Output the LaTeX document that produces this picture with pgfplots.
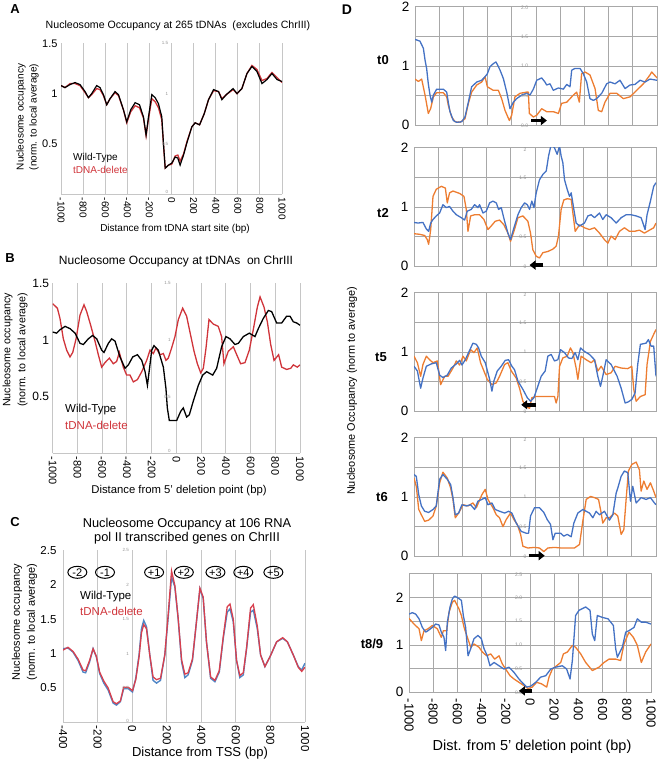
\documentclass[border=0pt]{standalone}
\usepackage{fontspec}
\setmainfont{Liberation Sans}
\usepackage{pgfplots}
\pgfplotsset{compat=1.18}
\usetikzlibrary{arrows.meta,shapes.geometric}
\definecolor{gridc}{HTML}{C6C6C6}
\definecolor{gridd}{HTML}{A8A8A8}
\definecolor{wtred}{HTML}{D0343A}
\definecolor{cred}{HTML}{D8404E}
\definecolor{cblue}{HTML}{4F86C6}
\definecolor{dblue}{HTML}{4472C4}
\definecolor{dorange}{HTML}{ED7D31}
\newcommand{\fs}[1]{\fontsize{#1}{#1}\selectfont}
\tikzset{
  tinyl/.style={font=\fs{4.5}, text=gray!85, anchor=east, inner sep=0.5pt},
  dline/.style={line width=1.3pt, line join=round},
  nuc/.style={draw, ellipse, line width=1pt, minimum width=19pt, minimum height=12pt, inner sep=0pt, font=\fs{11}},
}
\pgfplotsset{
  abc/.style={scale only axis, enlargelimits=false, clip mode=individual, anchor=south west,
    axis x line=bottom, axis y line=left,
    axis line style={draw=gridc, line width=0.9pt, -},
    xmajorgrids, grid style={draw=gridc, line width=0.9pt},
    major tick length=0pt,
    /pgf/number format/assume math mode=true,
    /pgf/number format/1000 sep={},
    xticklabel style={rotate=-90, anchor=west},
    yticklabel style={anchor=east},
  },
  dpan/.style={scale only axis, enlargelimits=false, clip mode=individual, anchor=south west,
    width=242pt, height=118.5pt, xmin=-1000, xmax=1000, ymin=0,
    axis line style={draw=gridd, line width=0.8pt},
    grid=major, grid style={draw=gridd, line width=0.8pt},
    major tick length=0pt,
    xtick={-1000,-800,-600,-400,-200,0,200,400,600,800,1000},
    /pgf/number format/assume math mode=true,
    /pgf/number format/1000 sep={},
    yticklabel style={font=\fs{13.5}, anchor=east, xshift=-2pt},
  },
}
\begin{document}
\begin{tikzpicture}[x=1pt,y=1pt]
\useasboundingbox (0pt,0pt) rectangle (660pt,763pt);
% ---------------- Panel A
\begin{axis}[abc, at={(61pt,568.7pt)}, width=221pt, height=151pt,
  xmin=-1000, xmax=1000, ymin=0, ymax=1.5,
  xtick={-1000,-800,-600,-400,-200,0,200,400,600,800,1000},
  ytick={0.5,1,1.5},
  xticklabel style={font=\fs{10}}, yticklabel style={font=\fs{11}}]
\addplot[wtred, line width=1.3pt] coordinates {(-1000,1.08) (-964,1.06) (-918,1.10) (-873,1.10) (-828,1.08) (-782,1.01) (-752,0.96) (-722,0.99) (-677,1.05) (-647,1.04) (-616,0.98) (-586,0.89) (-556,0.95) (-511,1.01) (-480,0.98) (-435,0.84) (-405,0.71) (-369,0.82) (-329,0.88) (-290,0.86) (-254,0.76) (-230,0.58) (-208,0.75) (-178,0.95) (-148,0.92) (-118,0.86) (-88,0.74) (-73,0.50) (-57,0.26) (-27,0.29) (3,0.30) (33,0.38) (57,0.39) (78,0.33) (109,0.40) (139,0.52) (184,0.67) (214,0.71) (254,0.69) (296,0.80) (335,0.94) (381,1.03) (426,1.02) (456,0.95) (496,0.99) (557,1.04) (593,1.00) (637,1.05) (683,1.20) (728,1.28) (773,1.24) (819,1.13) (864,1.15) (909,1.21) (955,1.16) (1000,1.11)};
\addplot[black, line width=1.2pt] coordinates {(-1000,1.08) (-964,1.06) (-918,1.09) (-873,1.11) (-828,1.09) (-782,1.02) (-752,0.96) (-722,1.00) (-677,1.08) (-647,1.06) (-616,0.99) (-586,0.89) (-556,0.95) (-511,1.02) (-480,0.99) (-435,0.84) (-405,0.72) (-369,0.84) (-329,0.91) (-290,0.89) (-254,0.77) (-230,0.59) (-208,0.77) (-178,0.99) (-148,0.96) (-118,0.90) (-88,0.77) (-73,0.51) (-57,0.26) (-27,0.29) (3,0.31) (33,0.37) (57,0.36) (78,0.29) (109,0.39) (139,0.51) (184,0.67) (214,0.71) (254,0.69) (296,0.80) (335,0.94) (381,1.04) (426,1.02) (456,0.94) (496,0.99) (557,1.05) (593,1.00) (637,1.05) (683,1.20) (728,1.27) (773,1.22) (819,1.10) (864,1.14) (909,1.20) (955,1.14) (1000,1.12)};
\node[tinyl] at (axis cs:-25,1.5) {1.5};
\node[tinyl] at (axis cs:-25,1) {1};
\node[tinyl] at (axis cs:-25,0.5) {0.5};
\node[tinyl] at (axis cs:-25,0.02) {0};
\end{axis}
\node[font=\bfseries\fs{13}] at (15pt,754pt) {A};
\node[font=\fs{10.6}] at (178pt,737pt) {Nucleosome Occupancy at 265 tDNAs\ \ (excludes ChrIII)};
\node[font=\fs{10}, rotate=90] at (21pt,646pt) {Nucleosome occupancy};
\node[font=\fs{10}, rotate=90] at (34pt,646pt) {(norm. to local average)};
\node[font=\fs{10}] at (175pt,534pt) {Distance from tDNA start site (bp)};
\node[font=\fs{10}, anchor=west, inner sep=0pt] at (73pt,605pt) {Wild-Type};
\node[font=\fs{10}, anchor=west, inner sep=0pt, text=wtred] at (73pt,593pt) {tDNA-delete};
% ---------------- Panel B
\begin{axis}[abc, at={(52.7pt,309.7pt)}, width=247.3pt, height=170pt,
  xmin=-1000, xmax=1000, ymin=0, ymax=1.5,
  xtick={-1000,-800,-600,-400,-200,0,200,400,600,800,1000},
  ytick={0.5,1,1.5},
  xticklabel style={font=\fs{11}}, yticklabel style={font=\fs{12}}]
\addplot[wtred, line width=1.3pt] coordinates {(-1000,1.32) (-981,1.30) (-962,1.28) (-941,1.19) (-914,1.01) (-887,0.91) (-860,0.85) (-838,0.89) (-811,1.01) (-779,1.22) (-747,1.31) (-725,1.25) (-693,1.13) (-658,0.99) (-631,0.87) (-604,0.76) (-577,0.80) (-542,0.84) (-510,0.79) (-483,0.81) (-461,0.89) (-429,0.76) (-402,0.69) (-375,0.69) (-348,0.63) (-315,0.65) (-280,0.72) (-240,0.82) (-213,0.91) (-186,0.88) (-165,0.93) (-132,0.87) (-105,0.88) (-84,0.82) (-65,0.84) (-38,0.93) (-11,1.03) (16,1.18) (51,1.28) (83,1.21) (110,1.07) (143,0.90) (170,0.79) (197,0.71) (218,0.75) (240,0.93) (264,1.18) (299,1.14) (339,1.12) (366,1.03) (385,0.79) (420,0.90) (461,0.94) (488,0.87) (520,0.79) (555,0.80) (590,0.91) (622,1.09) (655,1.29) (677,1.38) (709,1.29) (736,1.16) (763,0.96) (790,0.82) (827,0.87) (852,0.76) (892,0.74) (925,0.75) (946,0.78) (978,0.76) (1000,0.78)};
\addplot[black, line width=1.3pt] coordinates {(-1000,1.07) (-968,1.06) (-941,1.09) (-900,1.12) (-860,1.10) (-819,1.06) (-779,0.97) (-752,0.96) (-712,1.01) (-677,1.04) (-644,1.01) (-604,0.91) (-585,0.89) (-550,0.97) (-523,1.01) (-496,0.99) (-456,0.85) (-415,0.75) (-388,0.78) (-353,0.85) (-315,0.87) (-280,0.82) (-253,0.72) (-234,0.60) (-218,0.74) (-199,0.91) (-181,0.95) (-146,0.91) (-105,0.76) (-84,0.57) (-73,0.40) (-57,0.29) (-24,0.29) (3,0.29) (35,0.37) (56,0.40) (83,0.32) (105,0.34) (137,0.46) (178,0.60) (213,0.69) (245,0.72) (294,0.69) (326,0.75) (366,0.94) (401,1.03) (434,1.01) (474,0.96) (501,0.97) (542,1.03) (590,1.06) (636,1.03) (663,1.10) (703,1.19) (744,1.26) (771,1.25) (811,1.15) (852,1.15) (892,1.21) (919,1.21) (946,1.16) (973,1.15) (1000,1.13)};
\node[tinyl] at (axis cs:-40,1.5) {1.5};
\node[tinyl] at (axis cs:-40,1) {1};
\node[tinyl] at (axis cs:-40,0.5) {0.5};
\node[tinyl] at (axis cs:-40,0.02) {0};
\end{axis}
\node[font=\bfseries\fs{13}] at (10pt,505pt) {B};
\node[font=\fs{12}] at (176pt,502pt) {Nucleosome Occupancy at tDNAs\ \ on ChrIII};
\node[font=\fs{10.7}, rotate=90] at (7.5pt,413pt) {Nucleosome occupancy};
\node[font=\fs{10.7}, rotate=90] at (22.5pt,413pt) {(norm. to local average)};
\node[font=\fs{11.3}] at (179pt,272pt) {Distance from 5' deletion point (bp)};
\node[font=\fs{11.5}, anchor=west, inner sep=0pt] at (65pt,353pt) {Wild-Type};
\node[font=\fs{11.5}, anchor=west, inner sep=0pt, text=wtred] at (65pt,338pt) {tDNA-delete};
% ---------------- Panel C
\begin{axis}[abc, at={(63pt,40.7pt)}, width=242pt, height=172pt,
  xmin=-400, xmax=1000, ymin=0, ymax=2.5,
  xtick={-400,-200,0,200,400,600,800,1000},
  ytick={0.5,1,1.5,2,2.5},
  xticklabel style={font=\fs{11.5}}, yticklabel style={font=\fs{11.5}, xshift=-3pt}]
\addplot[cblue, line width=1.4pt] coordinates {(-400,1.07) (-371,1.08) (-342,1.02) (-313,0.90) (-284,0.73) (-269,0.72) (-246,0.88) (-226,1.07) (-207,0.95) (-188,0.71) (-164,0.57) (-139,0.47) (-110,0.28) (-91,0.25) (-68,0.30) (-49,0.49) (-23,0.49) (2,0.44) (21,0.64) (40,0.98) (54,1.36) (67,1.48) (83,1.39) (102,0.98) (121,0.61) (141,0.57) (164,0.61) (189,0.98) (208,1.51) (228,2.11) (247,1.97) (266,1.51) (286,0.88) (305,0.65) (324,0.69) (349,0.90) (372,1.46) (392,1.94) (411,1.80) (430,1.17) (454,0.64) (479,0.59) (504,0.73) (527,1.22) (550,1.60) (566,1.65) (585,1.46) (604,0.90) (623,0.65) (643,0.69) (662,1.07) (685,1.60) (701,1.63) (724,1.36) (743,0.98) (768,0.81) (797,0.95) (836,1.17) (871,1.22) (898,1.17) (932,0.98) (961,0.81) (981,0.76) (1000,0.86)};
\addplot[cred, line width=1.3pt] coordinates {(-400,1.05) (-371,1.09) (-342,1.03) (-313,0.92) (-284,0.76) (-269,0.75) (-246,0.90) (-226,1.07) (-207,0.96) (-188,0.73) (-164,0.60) (-139,0.50) (-110,0.30) (-91,0.27) (-68,0.31) (-49,0.51) (-23,0.51) (2,0.46) (21,0.62) (40,0.95) (54,1.30) (67,1.42) (83,1.36) (102,0.98) (121,0.66) (141,0.62) (164,0.64) (189,0.98) (208,1.55) (228,2.20) (247,1.99) (266,1.52) (286,0.91) (305,0.70) (324,0.72) (349,0.92) (372,1.46) (392,1.95) (411,1.82) (430,1.17) (454,0.66) (479,0.61) (504,0.75) (527,1.24) (550,1.68) (566,1.72) (585,1.50) (604,0.90) (623,0.68) (643,0.72) (662,1.08) (685,1.66) (701,1.71) (724,1.40) (743,0.98) (768,0.81) (797,0.95) (836,1.17) (871,1.23) (898,1.17) (932,0.98) (961,0.80) (981,0.74) (1000,0.80)};
\node[tinyl] at (axis cs:-15,2.5) {2.5};
\node[tinyl] at (axis cs:-15,2) {2};
\node[tinyl] at (axis cs:-15,1.5) {1.5};
\node[tinyl] at (axis cs:-15,1) {1};
\node[tinyl] at (axis cs:-15,0.5) {0.5};
\node[tinyl] at (axis cs:-15,0.02) {0};
\node[nuc] at (axis cs:-317,2.18) {-2};
\node[nuc] at (axis cs:-157,2.18) {-1};
\node[nuc] at (axis cs:127,2.18) {+1};
\node[nuc] at (axis cs:299,2.18) {+2};
\node[nuc] at (axis cs:482,2.18) {+3};
\node[nuc] at (axis cs:643,2.18) {+4};
\node[nuc] at (axis cs:817,2.18) {+5};
\end{axis}
\node[font=\bfseries\fs{13}] at (15pt,241pt) {C};
\node[font=\fs{12.8}] at (187pt,239pt) {Nucleosome Occupancy at 106 RNA};
\node[font=\fs{12.8}] at (187pt,225pt) {pol II transcribed genes on ChrIII};
\node[font=\fs{11}, rotate=90] at (17pt,141pt) {Nucleosome occupancy};
\node[font=\fs{11}, rotate=90] at (32pt,141pt) {(norm. to local average)};
\node[font=\fs{13}] at (200pt,10pt) {Distance from TSS (bp)};
\node[font=\fs{11.5}, anchor=west, inner sep=0pt] at (80pt,166pt) {Wild-Type};
\node[font=\fs{11.5}, anchor=west, inner sep=0pt, text=wtred] at (80pt,152pt) {tDNA-delete};
% ---------------- Panel D t0
\begin{axis}[dpan, at={(415pt,637.7pt)}, ymax=2, ytick={0,0.5,1,1.5,2}, yticklabels={0,,1,,2}, xticklabels={}]
\addplot[dorange, dline] coordinates {(-1000,0.78) (-972,0.74) (-945,0.78) (-917,0.51) (-890,0.20) (-871,0.28) (-848,0.48) (-821,0.55) (-766,0.55) (-738,0.48) (-725,0.34) (-697,0.14) (-669,0.06) (-628,0.05) (-587,0.11) (-559,0.37) (-532,0.56) (-490,0.68) (-449,0.73) (-421,0.82) (-402,0.65) (-353,0.59) (-311,0.59) (-284,0.45) (-256,0.25) (-220,0.08) (-201,0.17) (-174,0.48) (-132,0.54) (-77,0.56) (-63,0.56) (-55,0.20) (-22,0.14) (6,0.17) (47,0.28) (88,0.23) (143,0.23) (185,0.20) (212,0.37) (254,0.39) (309,0.51) (336,0.56) (358,0.39) (377,0.87) (405,0.90) (446,0.85) (488,0.62) (515,0.25) (543,0.23) (570,0.39) (612,0.54) (667,0.54) (722,0.45) (777,0.48) (832,0.59) (887,0.70) (942,0.85) (956,0.90) (1000,0.80)};
\addplot[dblue, dline] coordinates {(-1000,1.45) (-959,1.42) (-931,1.30) (-917,1.10) (-904,0.96) (-890,0.70) (-876,0.51) (-862,0.39) (-848,0.51) (-821,0.61) (-766,0.61) (-738,0.56) (-725,0.39) (-711,0.23) (-683,0.08) (-656,0.05) (-614,0.06) (-587,0.14) (-559,0.39) (-532,0.65) (-490,0.73) (-449,0.76) (-421,0.82) (-402,0.87) (-380,0.99) (-353,1.04) (-331,1.07) (-311,0.99) (-297,0.93) (-270,0.79) (-242,0.56) (-215,0.28) (-187,0.39) (-160,0.45) (-118,0.51) (-77,0.54) (-50,0.51) (-22,0.61) (6,0.76) (47,0.80) (74,0.73) (88,0.68) (116,0.70) (143,0.59) (185,0.63) (226,0.61) (254,0.69) (281,0.65) (295,0.93) (322,0.96) (364,0.96) (391,0.87) (419,0.73) (446,0.45) (474,0.42) (501,0.45) (543,0.54) (584,0.70) (612,0.73) (653,0.70) (694,0.76) (736,0.62) (777,0.68) (818,0.69) (860,0.76) (901,0.73) (942,0.78) (1000,0.76)};
\node[tinyl, font=\fs{5}] at (axis cs:-60,1.98) {2.0};
\node[tinyl, font=\fs{5}] at (axis cs:-60,1.5) {1.5};
\node[tinyl, font=\fs{5}] at (axis cs:-60,1) {1.0};
\node[tinyl, font=\fs{5}] at (axis cs:-60,0.5) {0.5};
\node[tinyl, font=\fs{5}] at (axis cs:-60,0) {0.0};
\draw[black, line width=3.5pt, -{Triangle[length=6pt,width=9pt]}] (axis cs:-40,0.08) -- (axis cs:90,0.08);
\end{axis}
% ---------------- t2
\begin{axis}[dpan, at={(414pt,496.7pt)}, ymax=2, ytick={0,0.5,1,1.5,2}, yticklabels={0,,1,,2}, xticklabels={}]
\addplot[dorange, dline] coordinates {(-1000,0.55) (-953,0.54) (-912,0.52) (-890,0.45) (-879,0.37) (-862,0.62) (-843,1.18) (-816,1.30) (-774,1.35) (-741,1.32) (-725,1.07) (-706,1.24) (-678,1.27) (-623,1.23) (-587,1.18) (-568,0.96) (-554,0.59) (-532,0.85) (-499,0.87) (-458,0.87) (-422,0.79) (-389,0.62) (-362,0.68) (-329,0.76) (-293,0.78) (-257,0.70) (-224,0.56) (-202,0.42) (-174,0.59) (-141,0.82) (-100,0.85) (-59,0.76) (-37,0.56) (-18,0.28) (10,0.17) (37,0.14) (65,0.23) (106,0.25) (148,0.29) (175,0.34) (194,0.51) (216,0.96) (238,1.12) (266,1.14) (299,1.13) (315,0.87) (332,0.59) (368,0.70) (409,0.65) (450,0.62) (492,0.65) (533,0.56) (574,0.45) (602,0.39) (629,0.51) (662,0.45) (698,0.59) (739,0.65) (781,0.59) (822,0.59) (863,0.61) (904,0.56) (946,0.61) (981,0.65) (1000,0.73)};
\addplot[dblue, dline] coordinates {(-1000,0.74) (-967,0.73) (-926,0.74) (-898,0.63) (-879,0.59) (-862,0.73) (-843,0.79) (-816,0.85) (-788,0.90) (-761,1.04) (-733,0.99) (-706,1.01) (-678,0.93) (-650,0.87) (-609,0.82) (-582,0.78) (-560,0.93) (-527,0.96) (-499,1.04) (-472,0.99) (-458,1.04) (-430,0.90) (-403,0.93) (-375,1.07) (-348,1.10) (-320,1.07) (-301,0.96) (-279,0.99) (-251,0.76) (-224,0.56) (-202,0.45) (-174,0.65) (-141,0.87) (-114,0.99) (-86,1.07) (-64,1.04) (-45,0.96) (-26,1.10) (-9,0.99) (10,1.24) (37,1.46) (65,1.55) (93,1.61) (112,1.86) (134,2.06) (161,2.0) (183,1.89) (203,2.03) (216,1.86) (230,1.75) (244,1.46) (266,1.30) (285,1.18) (299,1.24) (321,0.96) (340,0.73) (368,0.68) (409,0.73) (437,0.85) (464,0.87) (492,0.82) (533,0.90) (560,0.79) (588,0.87) (629,0.82) (671,0.73) (712,0.82) (753,0.87) (794,0.87) (836,0.85) (877,0.82) (910,0.62) (926,0.87) (954,1.10) (981,1.35) (1000,1.41)};
\node[tinyl, font=\fs{5}] at (axis cs:-65,1.97) {2};
\node[tinyl, font=\fs{5}] at (axis cs:-65,1.5) {1.5};
\node[tinyl, font=\fs{5}] at (axis cs:-65,1) {1};
\node[tinyl, font=\fs{5}] at (axis cs:-65,0.5) {0.5};
\node[tinyl, font=\fs{5}] at (axis cs:-65,0) {0};
\draw[black, line width=3.5pt, -{Triangle[length=6pt,width=9pt]}] (axis cs:70,0.02) -- (axis cs:-45,0.02);
\end{axis}
% ---------------- t5
\begin{axis}[dpan, at={(414pt,351.7pt)}, ymax=2, ytick={0,0.5,1,1.5,2}, yticklabels={0,,1,,2}, xticklabels={}]
\addplot[dorange, dline] coordinates {(-1000,0.93) (-972,0.82) (-945,0.59) (-926,0.79) (-898,0.93) (-871,0.87) (-843,0.82) (-807,0.85) (-780,0.45) (-747,0.59) (-719,0.59) (-678,0.73) (-650,0.85) (-623,0.78) (-595,0.93) (-568,0.85) (-532,1.04) (-505,0.99) (-477,1.07) (-450,0.82) (-422,0.68) (-395,0.54) (-356,0.45) (-320,0.48) (-293,0.59) (-251,0.79) (-224,0.82) (-196,0.68) (-155,0.56) (-128,0.39) (-100,0.17) (-73,0.08) (-45,0.05) (-26,0.23) (10,0.25) (51,0.25) (106,0.25) (161,0.25) (175,0.14) (189,0.25) (203,0.76) (230,0.90) (266,0.93) (293,1.07) (313,0.99) (340,0.73) (354,0.54) (381,0.93) (423,0.87) (464,0.82) (492,0.87) (519,0.68) (547,0.76) (588,0.62) (629,0.65) (662,0.76) (712,0.73) (767,0.72) (800,0.76) (816,0.37) (836,0.17) (871,0.25) (910,0.28) (926,0.79) (954,1.18) (981,1.30) (1000,1.38)};
\addplot[dblue, dline] coordinates {(-1000,0.76) (-972,0.68) (-945,0.39) (-926,0.56) (-898,0.76) (-857,0.80) (-816,0.82) (-788,0.61) (-761,0.57) (-725,0.61) (-692,0.73) (-650,0.80) (-623,0.86) (-604,0.78) (-576,0.87) (-549,0.99) (-513,1.15) (-485,1.13) (-466,1.07) (-444,0.93) (-411,0.82) (-375,0.54) (-356,0.34) (-340,0.51) (-312,0.68) (-279,0.76) (-246,0.86) (-218,0.87) (-191,0.76) (-169,0.70) (-141,0.51) (-100,0.37) (-64,0.23) (-37,0.17) (-9,0.23) (18,0.39) (51,0.59) (84,0.68) (106,0.93) (134,0.96) (161,0.85) (189,0.87) (211,1.04) (244,0.99) (277,0.90) (304,0.89) (332,0.99) (354,0.87) (376,1.07) (409,1.01) (450,0.96) (492,0.87) (519,0.59) (541,0.42) (560,0.59) (588,0.87) (629,0.79) (679,0.59) (712,0.39) (745,0.14) (772,0.16) (800,0.20) (827,0.31) (849,0.79) (871,1.13) (918,1.15) (937,1.21) (959,1.10) (981,1.10) (1000,0.59)};
\node[tinyl, font=\fs{5}] at (axis cs:-65,1.97) {2};
\node[tinyl, font=\fs{5}] at (axis cs:-65,1.5) {1.5};
\node[tinyl, font=\fs{5}] at (axis cs:-65,1) {1};
\node[tinyl, font=\fs{5}] at (axis cs:-65,0.5) {0.5};
\node[tinyl, font=\fs{5}] at (axis cs:-65,0) {0};
\draw[black, line width=3.5pt, -{Triangle[length=6pt,width=9pt]}] (axis cs:10,0.11) -- (axis cs:-114,0.11);
\end{axis}
% ---------------- t6
\begin{axis}[dpan, at={(414pt,206.7pt)}, ymax=2, ytick={0,0.5,1,1.5,2}, yticklabels={0,,1,,2}, xticklabels={}]
\addplot[dorange, dline] coordinates {(-1000,1.32) (-981,1.18) (-961,0.79) (-939,0.70) (-912,0.59) (-879,0.61) (-843,0.68) (-816,0.85) (-788,1.24) (-761,1.42) (-725,1.32) (-697,1.15) (-678,0.96) (-659,0.65) (-631,0.73) (-595,0.87) (-554,0.85) (-513,0.90) (-485,0.82) (-439,1.04) (-411,1.13) (-389,0.96) (-348,0.82) (-320,0.70) (-293,0.65) (-265,0.50) (-238,0.62) (-202,0.73) (-174,0.62) (-147,0.54) (-119,0.37) (-100,0.17) (-59,0.14) (-4,0.15) (37,0.14) (73,0.08) (106,0.14) (161,0.15) (216,0.14) (271,0.14) (326,0.14) (368,0.20) (395,0.59) (423,0.96) (459,1.01) (492,0.99) (525,0.96) (547,0.73) (560,0.56) (588,0.65) (615,0.65) (657,0.73) (684,0.68) (712,0.37) (734,0.45) (753,0.96) (772,1.44) (800,1.55) (836,1.59) (863,1.46) (877,1.10) (899,1.27) (926,1.13) (954,1.24) (981,1.10) (1000,0.99)};
\addplot[dblue, dline] coordinates {(-1000,1.38) (-981,1.35) (-961,1.04) (-939,0.85) (-912,0.76) (-879,0.74) (-843,0.79) (-816,0.85) (-788,1.30) (-761,1.38) (-725,1.30) (-697,1.21) (-678,0.99) (-659,0.70) (-631,0.73) (-604,0.87) (-568,0.85) (-532,0.87) (-499,0.79) (-472,0.93) (-439,0.96) (-411,0.99) (-389,0.87) (-356,0.90) (-329,0.79) (-293,0.76) (-251,0.73) (-218,0.76) (-191,0.73) (-155,0.56) (-114,0.42) (-73,0.39) (-53,0.39) (-37,0.68) (-4,0.82) (37,0.82) (73,0.74) (101,0.62) (128,0.54) (148,0.28) (167,0.39) (211,0.39) (238,0.34) (266,0.37) (299,0.33) (321,0.56) (354,0.73) (395,0.79) (450,0.73) (478,0.65) (505,0.76) (533,0.70) (574,0.76) (615,0.61) (643,0.70) (671,1.07) (684,1.15) (712,1.35) (739,1.44) (767,1.41) (789,0.93) (808,1.18) (836,0.90) (877,0.99) (918,0.96) (954,0.99) (987,0.90) (1000,0.87)};
\node[tinyl, font=\fs{5}] at (axis cs:-65,1.97) {2};
\node[tinyl, font=\fs{5}] at (axis cs:-65,1.5) {1.5};
\node[tinyl, font=\fs{5}] at (axis cs:-65,1) {1};
\node[tinyl, font=\fs{5}] at (axis cs:-65,0.5) {0.5};
\node[tinyl, font=\fs{5}] at (axis cs:-65,0) {0};
\draw[black, line width=3.5pt, -{Triangle[length=6pt,width=9pt]}] (axis cs:-53,0.01) -- (axis cs:80,0.01);
\end{axis}
% ---------------- t8/9
\begin{axis}[dpan, at={(409pt,70.7pt)}, ymax=2.5, ytick={0,0.5,1,1.5,2,2.5}, yticklabels={0,,1,,2,},
  xticklabel style={font=\fs{13}, rotate=-90, anchor=west}, xticklabel shift=3pt]
\addplot[dorange, dline] coordinates {(-1000,1.56) (-959,1.44) (-917,1.34) (-898,1.09) (-876,1.30) (-843,1.34) (-807,1.41) (-766,1.34) (-733,1.16) (-716,1.30) (-689,1.30) (-669,1.69) (-642,1.90) (-623,1.94) (-587,1.76) (-567,1.62) (-545,1.37) (-523,1.20) (-490,0.95) (-463,1.02) (-421,0.95) (-394,0.85) (-358,0.77) (-325,0.81) (-292,0.70) (-256,0.77) (-229,0.60) (-201,0.49) (-165,0.35) (-132,0.28) (-91,0.21) (-50,0.14) (-16,0.08) (19,0.11) (55,0.21) (94,0.18) (138,0.11) (157,0.32) (185,0.49) (220,0.56) (254,0.63) (276,0.81) (309,0.85) (350,0.99) (377,0.95) (419,0.81) (460,0.63) (515,0.46) (570,0.53) (612,0.63) (653,0.70) (708,0.70) (749,0.67) (777,1.02) (818,1.27) (854,1.16) (887,0.99) (920,0.63) (956,0.85) (1000,1.02)};
\addplot[dblue, dline] coordinates {(-1000,1.65) (-972,1.68) (-945,1.65) (-917,1.55) (-890,1.37) (-862,1.27) (-843,1.30) (-807,1.37) (-780,1.44) (-752,1.42) (-733,1.27) (-711,1.16) (-697,0.88) (-683,1.48) (-661,1.80) (-642,1.97) (-623,2.03) (-595,1.99) (-567,1.94) (-551,1.62) (-532,1.37) (-512,0.77) (-490,0.92) (-463,1.13) (-430,1.20) (-402,1.13) (-380,0.92) (-353,0.77) (-331,0.56) (-297,0.63) (-256,0.56) (-215,0.49) (-174,0.53) (-132,0.42) (-91,0.28) (-55,0.18) (-27,0.11) (6,0.13) (47,0.21) (88,0.32) (130,0.35) (171,0.49) (212,0.53) (267,0.56) (303,0.49) (331,0.28) (350,0.67) (377,1.62) (405,1.73) (460,1.80) (496,1.73) (515,1.23) (535,1.09) (556,1.62) (598,1.58) (645,1.55) (689,1.41) (708,0.92) (722,0.74) (763,0.95) (791,1.27) (818,1.30) (860,1.37) (887,1.55) (920,1.48) (956,1.48) (1000,1.44)};
\node[tinyl, font=\fs{5}] at (axis cs:-60,2.47) {2.5};
\node[tinyl, font=\fs{5}] at (axis cs:-60,2) {2.0};
\node[tinyl, font=\fs{5}] at (axis cs:-60,1.5) {1.5};
\node[tinyl, font=\fs{5}] at (axis cs:-60,1) {1.0};
\node[tinyl, font=\fs{5}] at (axis cs:-60,0.5) {0.5};
\node[tinyl, font=\fs{5}] at (axis cs:-60,0) {0.0};
\draw[black, line width=3.5pt, -{Triangle[length=6pt,width=9pt]}] (axis cs:20,0.03) -- (axis cs:-92,0.03);
\end{axis}
\node[font=\bfseries\fs{14}] at (347pt,753pt) {D};
\node[font=\bfseries\fs{13}] at (383pt,703pt) {t0};
\node[font=\bfseries\fs{13}] at (383pt,550pt) {t2};
\node[font=\bfseries\fs{13}] at (381pt,406pt) {t5};
\node[font=\bfseries\fs{13}] at (382pt,266pt) {t6};
\node[font=\bfseries\fs{13}] at (372pt,119pt) {t8/9};
\node[font=\fs{10.9}, rotate=90] at (352pt,372pt) {Nucleosome Occupancy (norm to average)};
\node[font=\fs{14.5}] at (532pt,16pt) {Dist. from 5' deletion point (bp)};
\end{tikzpicture}
\end{document}
